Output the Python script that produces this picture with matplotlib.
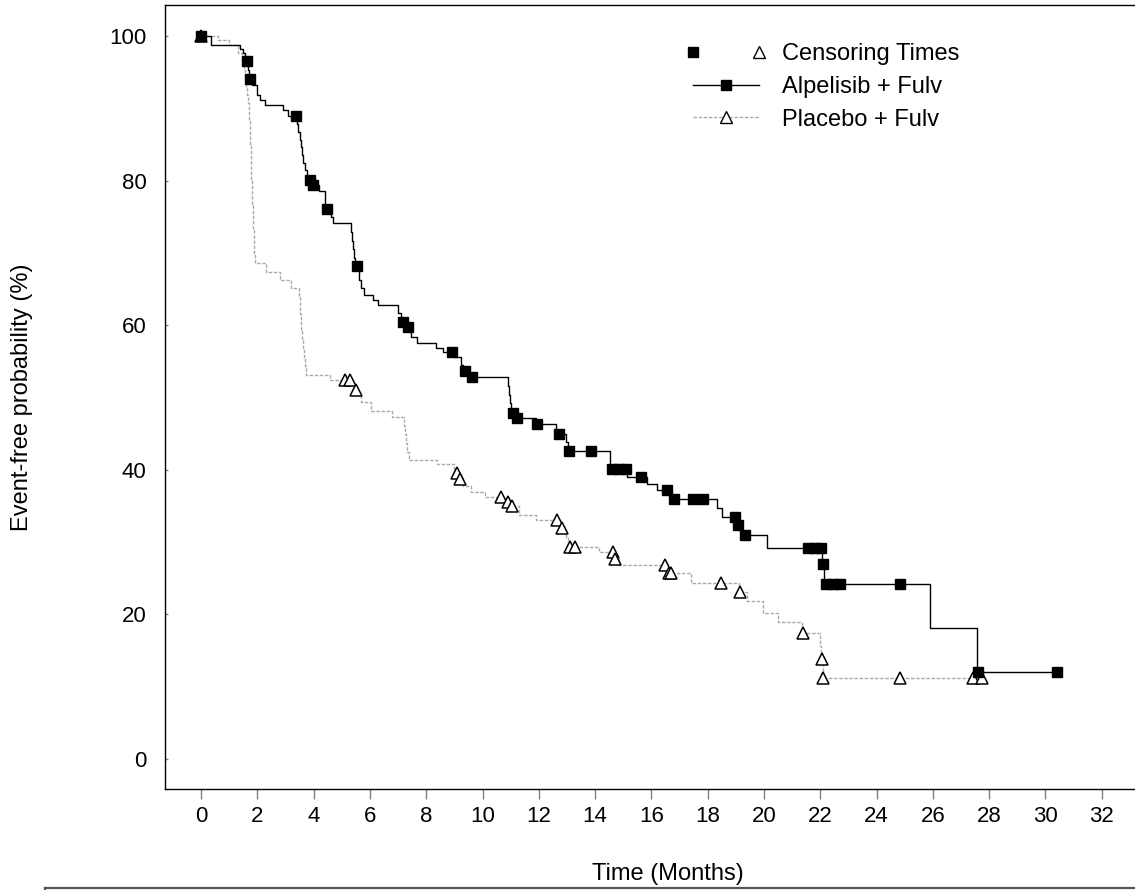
import numpy as np
import matplotlib
matplotlib.use("Agg")
import matplotlib.pyplot as plt
from matplotlib.lines import Line2D
from matplotlib.legend_handler import HandlerBase

plt.rcParams['font.family'] = ['Liberation Sans', 'DejaVu Sans']

# ---------------- data ----------------
alpelisib_t = [0.00, 0.35, 1.40, 1.50, 1.58, 1.66, 1.71, 1.80, 1.98, 2.10, 2.27, 2.90, 3.08,
               3.42, 3.46, 3.50, 3.54, 3.58, 3.63, 3.68, 3.78, 3.93, 4.20, 4.40, 4.62, 4.70,
               5.32, 5.36, 5.40, 5.44, 5.48, 5.62, 5.70, 5.78, 6.10, 6.30, 7.00, 7.12, 7.30,
               7.45, 7.68, 8.35, 8.60, 9.00, 9.25, 9.32, 9.50, 10.90, 10.94, 10.98, 11.02,
               11.15, 11.90, 12.60, 12.95, 13.02, 14.53, 15.15, 15.85, 16.19, 16.70, 18.34,
               18.50, 19.03, 19.20, 20.10, 22.05, 22.12, 25.90, 27.55]
alpelisib_v = [100.0, 98.8, 98.2, 97.6, 96.5, 95.3, 94.1, 93.2, 91.8, 91.2, 90.4, 89.7, 88.9,
               87.8, 86.7, 85.6, 84.6, 83.5, 82.4, 81.4, 80.1, 79.4, 78.5, 76.1, 75.0, 74.1,
               72.9, 71.7, 70.5, 69.3, 68.2, 66.3, 65.2, 64.2, 63.5, 62.8, 61.7, 60.5, 59.8,
               58.4, 57.5, 56.8, 56.3, 55.6, 54.5, 53.6, 52.8, 51.6, 50.4, 49.2, 47.9,
               47.2, 46.4, 45.0, 43.8, 42.6, 40.1, 39.0, 38.1, 37.2, 36.0, 34.7,
               33.5, 32.4, 31.0, 29.2, 27.0, 24.2, 18.1, 12.1]
alpelisib_end = 30.4
alpelisib_cens = [0.0, 1.62, 1.74, 3.36, 3.87, 3.99, 4.46, 5.53, 7.19, 7.37, 8.90, 9.38, 9.62,
                  11.07, 11.21, 11.95, 12.73, 13.08, 13.85, 14.60, 14.85, 15.10, 15.62, 16.54,
                  16.80, 17.47, 17.82, 18.97, 19.09, 19.33, 21.55, 21.80, 22.02, 22.08, 22.20,
                  22.45, 22.70, 24.83, 27.60, 30.40]

placebo_t = [0.00, 0.60, 1.00, 1.30, 1.45, 1.52, 1.56, 1.60, 1.64, 1.68, 1.70, 1.72, 1.73,
             1.74, 1.75, 1.76, 1.77, 1.78, 1.79, 1.80, 1.81, 1.82, 1.83, 1.84, 1.86, 1.88,
             1.90, 1.93, 2.30, 2.80, 3.20, 3.48, 3.50, 3.52, 3.54, 3.56, 3.59, 3.62, 3.65,
             3.68, 3.74, 4.58, 5.40, 5.55, 5.70, 6.05, 6.77, 7.20, 7.24, 7.28, 7.33, 7.40,
             8.40, 9.00, 9.15, 9.30, 9.60, 10.10, 10.80, 11.00, 11.30, 11.90, 12.75, 12.95,
             13.05, 14.15, 14.68, 14.85, 16.58, 17.40, 19.10, 19.40, 19.97, 20.50, 21.35,
             22.00, 22.04, 22.09]
placebo_v = [100.0, 99.4, 98.8, 97.7, 96.5, 95.3, 94.2, 93.0, 91.9, 90.7, 89.5, 88.4, 87.2,
             86.0, 84.9, 83.7, 82.6, 81.4, 80.2, 79.1, 77.9, 76.7, 75.6, 74.4, 73.3, 71.5,
             69.8, 68.6, 67.4, 66.3, 65.1, 64.0, 62.8, 61.6, 60.4, 59.2, 58.0, 56.8, 55.6,
             54.4, 53.1, 52.4, 51.0, 50.3, 49.4, 48.2, 47.3, 46.1, 44.9, 43.7, 42.5, 41.4,
             40.8, 39.5, 38.7, 37.7, 37.0, 36.3, 35.6, 35.0, 33.7, 33.1, 32.0, 30.5,
             29.3, 28.7, 27.6, 26.8, 25.7, 24.4, 23.1, 21.8, 20.2, 18.9, 17.4,
             15.6, 13.9, 11.2]
placebo_end = 27.73
placebo_cens = [0.0, 5.12, 5.29, 5.50, 9.08, 9.20, 10.65, 10.92, 11.06, 12.64, 12.81, 13.10,
                13.30, 14.65, 14.71, 16.48, 16.62, 16.70, 18.46, 19.15, 21.40, 22.06, 22.10,
                24.83, 27.44, 27.73]

x_ticks = list(range(0, 33, 2))
y_ticks = [0, 20, 40, 60, 80, 100]
legend_labels = ["Censoring Times", "Alpelisib + Fulv", "Placebo + Fulv"]
x_label = "Time (Months)"
y_label = "Event-free probability (%)"


def level_at(times, levels, when):
    times = np.asarray(times)
    levels = np.asarray(levels)
    idx = np.searchsorted(times, np.asarray(when), side='right') - 1
    return levels[idx]


# ---------------- figure ----------------
W, H = 1135, 890
fig = plt.figure(figsize=(W / 100, H / 100), dpi=100)
L, R, B, T = 164.5, 1135.0, 789.3, 5.0
ax = fig.add_axes([L / W, 1 - B / H, (R - L) / W, (B - T) / H])
ax.set_xlim(-1.297, 33.18)
ax.set_ylim(-4.19, 104.29)

gray = '#a9a9a9'
# placebo curve
ax.step(np.append(placebo_t, placebo_end), np.append(placebo_v, placebo_v[-1]),
        where='post', color=gray, lw=1.0, ls=(0, (2.5, 1.2)), zorder=2)
ax.plot(placebo_cens, level_at(placebo_t, placebo_v, placebo_cens), ls='none',
        marker='^', ms=9, mfc='white', mec='black', mew=1.1, zorder=3)
# alpelisib curve
ax.step(np.append(alpelisib_t, alpelisib_end), np.append(alpelisib_v, alpelisib_v[-1]),
        where='post', color='black', lw=1.0, zorder=4)
ax.plot(alpelisib_cens, level_at(alpelisib_t, alpelisib_v, alpelisib_cens), ls='none',
        marker='s', ms=7, mfc='black', mec='black', zorder=5)

# axes styling
ax.spines['right'].set_visible(False)
for s in ('left', 'top', 'bottom'):
    ax.spines[s].set_linewidth(1.0)
    ax.spines[s].set_color('black')
ax.set_xticks(x_ticks)
ax.set_yticks(y_ticks)
ax.tick_params(axis='x', direction='out', length=7, width=1, color='#808080',
               labelsize=16, pad=5)
ax.tick_params(axis='y', direction='in', length=2.5, width=1, color='#808080',
               labelsize=16, pad=13)

fig.text(22 / W, 1 - 397 / H, y_label, rotation=90, ha='center', va='center', fontsize=17)
fig.text(668 / W, 1 - 874 / H, x_label, ha='center', va='center', fontsize=17)

# box line at the bottom (top edge of a table below)
fig.add_artist(Line2D([45 / W, 1.0], [1 - 888 / H, 1 - 888 / H], transform=fig.transFigure,
                      color='#555555', lw=1.6))
fig.add_artist(Line2D([45 / W, 45 / W], [1 - 888 / H, 0], transform=fig.transFigure,
                      color='#555555', lw=1.6))


# legend
class CensorHandler(HandlerBase):
    def create_artists(self, legend, orig_handle, xdescent, ydescent, width, height,
                       fontsize, trans):
        y = height / 2 - ydescent
        sq = Line2D([-xdescent], [y], marker='s', ms=7, color='black', ls='none')
        tri = Line2D([width - xdescent], [y], marker='^', ms=8.5, mfc='white',
                     mec='black', mew=1.0, ls='none')
        sq.set_transform(trans)
        tri.set_transform(trans)
        return [sq, tri]


censor_handle = Line2D([], [], ls='none')
alp_handle = Line2D([], [], color='black', lw=1.0, marker='s', ms=7)
pla_handle = Line2D([], [], color=gray, lw=1.0, ls=(0, (2.5, 1.2)), marker='^', ms=8.5,
                    mfc='white', mec='black', mew=1.0)
ax.legend([censor_handle, alp_handle, pla_handle], legend_labels,
          handler_map={censor_handle: CensorHandler()}, numpoints=1,
          loc='upper left', bbox_to_anchor=(693 / W, 1 - 43 / H),
          bbox_transform=fig.transFigure, frameon=False, fontsize=17,
          handlelength=2.8, handletextpad=0.97, labelspacing=0.46,
          borderpad=0, borderaxespad=0)

fig.savefig('out.png', dpi=100)
